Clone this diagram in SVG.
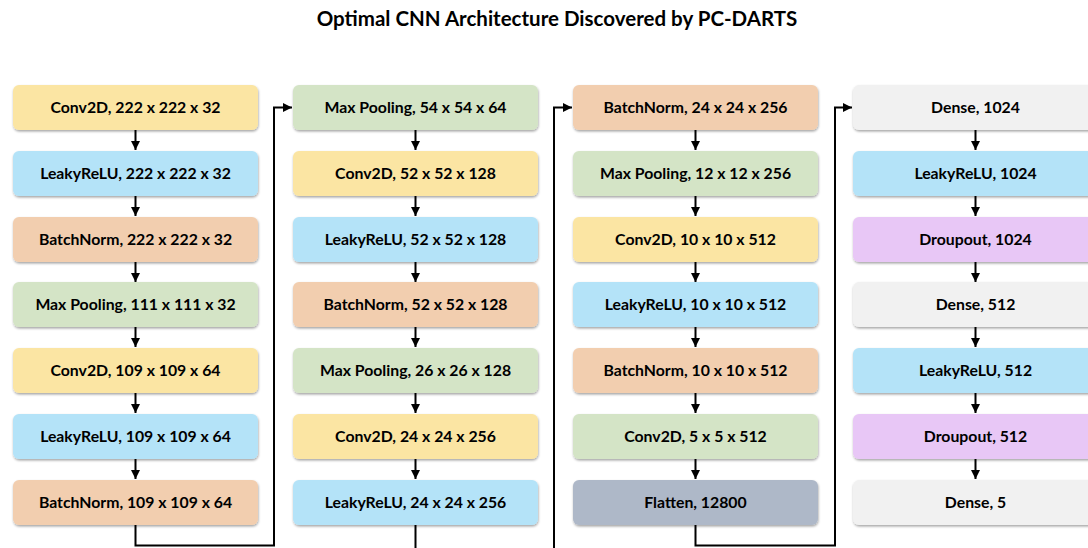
<svg xmlns="http://www.w3.org/2000/svg" width="1088" height="548" viewBox="0 0 1088 548">
<defs>
<style>
.t{font-family:Lato,"Open Sans","Liberation Sans",sans-serif;font-weight:bold;font-size:15.8px;fill:#000;text-anchor:middle}
.title{font-family:Lato,"Open Sans","Liberation Sans",sans-serif;font-weight:bold;font-size:20.5px;fill:#000;text-anchor:middle}
.b{filter:url(#sh)}
.conv{fill:#FBE5A3}
.relu{fill:#B4E3F8}
.bn{fill:#F2CEAF}
.mp{fill:#D4E4C6}
.dense{fill:#F1F1F1}
.drop{fill:#E8C7F6}
.flat{fill:#AEB8C8}
.c{fill:none;stroke:#000;stroke-width:2;marker-end:url(#ah)}
</style>
<filter id="sh" x="-5%" y="-20%" width="110%" height="150%">
<feDropShadow dx="0.5" dy="1.5" stdDeviation="1.2" flood-color="#000" flood-opacity="0.35"/>
</filter>
<marker id="ah" markerUnits="userSpaceOnUse" markerWidth="10" markerHeight="10" refX="9" refY="5" orient="auto">
<path d="M0,0.5 L9,5 L0,9.5 z" fill="#000"/>
</marker>
</defs>
<rect width="1088" height="548" fill="#fff"/>
<text class="title" x="557" y="26">Optimal CNN Architecture Discovered by PC-DARTS</text>

<g id="connectors">
<path class="c" d="M135.5,130 V150"/>
<path class="c" d="M135.5,196 V216"/>
<path class="c" d="M135.5,262 V282"/>
<path class="c" d="M135.5,327 V347"/>
<path class="c" d="M135.5,393 V413"/>
<path class="c" d="M135.5,459 V479"/>
<path class="c" d="M135.5,525 V545.5 H274 V107.5 H292"/>
<path class="c" d="M415.5,130 V150"/>
<path class="c" d="M415.5,196 V216"/>
<path class="c" d="M415.5,262 V282"/>
<path class="c" d="M415.5,327 V347"/>
<path class="c" d="M415.5,393 V413"/>
<path class="c" d="M415.5,459 V479"/>
<path class="c" d="M415.5,525 V560 H554 V107.5 H572"/>
<path class="c" d="M695.5,130 V150"/>
<path class="c" d="M695.5,196 V216"/>
<path class="c" d="M695.5,262 V282"/>
<path class="c" d="M695.5,327 V347"/>
<path class="c" d="M695.5,393 V413"/>
<path class="c" d="M695.5,459 V479"/>
<path class="c" d="M695.5,525 V545.5 H835 V107.5 H852"/>
<path class="c" d="M975.5,130 V150"/>
<path class="c" d="M975.5,196 V216"/>
<path class="c" d="M975.5,262 V282"/>
<path class="c" d="M975.5,327 V347"/>
<path class="c" d="M975.5,393 V413"/>
<path class="c" d="M975.5,459 V479"/>
</g>

<g id="n1"><rect class="b conv" x="13" y="85" width="245" height="45" rx="6"/><text class="t" x="135.5" y="113">Conv2D, 222 x 222 x 32</text></g>
<g id="n2"><rect class="b relu" x="13" y="151" width="245" height="45" rx="6"/><text class="t" x="135.5" y="179">LeakyReLU, 222 x 222 x 32</text></g>
<g id="n3"><rect class="b bn" x="13" y="217" width="245" height="45" rx="6"/><text class="t" x="135.5" y="245">BatchNorm, 222 x 222 x 32</text></g>
<g id="n4"><rect class="b mp" x="13" y="282" width="245" height="45" rx="6"/><text class="t" x="135.5" y="310">Max Pooling, 111 x 111 x 32</text></g>
<g id="n5"><rect class="b conv" x="13" y="348" width="245" height="45" rx="6"/><text class="t" x="135.5" y="376">Conv2D, 109 x 109 x 64</text></g>
<g id="n6"><rect class="b relu" x="13" y="414" width="245" height="45" rx="6"/><text class="t" x="135.5" y="442">LeakyReLU, 109 x 109 x 64</text></g>
<g id="n7"><rect class="b bn" x="13" y="480" width="245" height="45" rx="6"/><text class="t" x="135.5" y="508">BatchNorm, 109 x 109 x 64</text></g>

<g id="n8"><rect class="b mp" x="293" y="85" width="245" height="45" rx="6"/><text class="t" x="415.5" y="113">Max Pooling, 54 x 54 x 64</text></g>
<g id="n9"><rect class="b conv" x="293" y="151" width="245" height="45" rx="6"/><text class="t" x="415.5" y="179">Conv2D, 52 x 52 x 128</text></g>
<g id="n10"><rect class="b relu" x="293" y="217" width="245" height="45" rx="6"/><text class="t" x="415.5" y="245">LeakyReLU, 52 x 52 x 128</text></g>
<g id="n11"><rect class="b bn" x="293" y="282" width="245" height="45" rx="6"/><text class="t" x="415.5" y="310">BatchNorm, 52 x 52 x 128</text></g>
<g id="n12"><rect class="b mp" x="293" y="348" width="245" height="45" rx="6"/><text class="t" x="415.5" y="376">Max Pooling, 26 x 26 x 128</text></g>
<g id="n13"><rect class="b conv" x="293" y="414" width="245" height="45" rx="6"/><text class="t" x="415.5" y="442">Conv2D, 24 x 24 x 256</text></g>
<g id="n14"><rect class="b relu" x="293" y="480" width="245" height="45" rx="6"/><text class="t" x="415.5" y="508">LeakyReLU, 24 x 24 x 256</text></g>

<g id="n15"><rect class="b bn" x="573" y="85" width="245" height="45" rx="6"/><text class="t" x="695.5" y="113">BatchNorm, 24 x 24 x 256</text></g>
<g id="n16"><rect class="b mp" x="573" y="151" width="245" height="45" rx="6"/><text class="t" x="695.5" y="179">Max Pooling, 12 x 12 x 256</text></g>
<g id="n17"><rect class="b conv" x="573" y="217" width="245" height="45" rx="6"/><text class="t" x="695.5" y="245">Conv2D, 10 x 10 x 512</text></g>
<g id="n18"><rect class="b relu" x="573" y="282" width="245" height="45" rx="6"/><text class="t" x="695.5" y="310">LeakyReLU, 10 x 10 x 512</text></g>
<g id="n19"><rect class="b bn" x="573" y="348" width="245" height="45" rx="6"/><text class="t" x="695.5" y="376">BatchNorm, 10 x 10 x 512</text></g>
<g id="n20"><rect class="b mp" x="573" y="414" width="245" height="45" rx="6"/><text class="t" x="695.5" y="442">Conv2D, 5 x 5 x 512</text></g>
<g id="n21"><rect class="b flat" x="573" y="480" width="245" height="45" rx="6"/><text class="t" x="695.5" y="508">Flatten, 12800</text></g>

<g id="n22"><rect class="b dense" x="853" y="85" width="245" height="45" rx="6"/><text class="t" x="975.5" y="113">Dense, 1024</text></g>
<g id="n23"><rect class="b relu" x="853" y="151" width="245" height="45" rx="6"/><text class="t" x="975.5" y="179">LeakyReLU, 1024</text></g>
<g id="n24"><rect class="b drop" x="853" y="217" width="245" height="45" rx="6"/><text class="t" x="975.5" y="245">Droupout, 1024</text></g>
<g id="n25"><rect class="b dense" x="853" y="282" width="245" height="45" rx="6"/><text class="t" x="975.5" y="310">Dense, 512</text></g>
<g id="n26"><rect class="b relu" x="853" y="348" width="245" height="45" rx="6"/><text class="t" x="975.5" y="376">LeakyReLU, 512</text></g>
<g id="n27"><rect class="b drop" x="853" y="414" width="245" height="45" rx="6"/><text class="t" x="975.5" y="442">Droupout, 512</text></g>
<g id="n28"><rect class="b dense" x="853" y="480" width="245" height="45" rx="6"/><text class="t" x="975.5" y="508">Dense, 5</text></g>
</svg>
